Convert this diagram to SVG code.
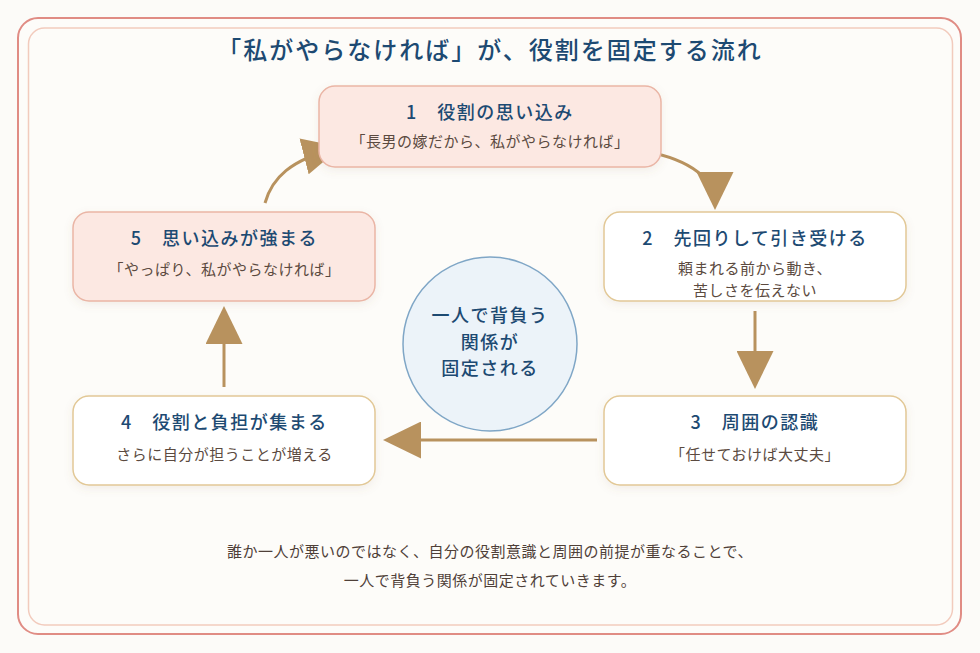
<svg xmlns="http://www.w3.org/2000/svg" width="980" height="653" viewBox="0 0 980 653">
  <style>
    text { font-family: "Noto Sans CJK JP", "Noto Sans", sans-serif; text-anchor: middle; }
    .main { font-size: 24px; font-weight: 500; fill: #1d4a72; letter-spacing: 2px; }
    .nt { font-size: 18px; font-weight: 500; fill: #1d4a72; letter-spacing: 1.5px; }
    .ns { font-size: 15px; fill: #5b4a40; letter-spacing: 0.5px; }
    .ct { font-size: 18px; font-weight: 500; fill: #1d4a72; letter-spacing: 1.5px; }
    .foot { font-size: 15px; fill: #4f4038; letter-spacing: 0.5px; }
    .pink { fill: #fce8e2; stroke: #eab5a5; stroke-width: 1.5; }
    .white { fill: #ffffff; stroke: #e2c896; stroke-width: 1.5; }
    .arrow { fill: none; stroke: #b8925e; stroke-width: 3; marker-end: url(#ah); }
  </style>
  <defs>
    <marker id="ah" viewBox="0 0 38 37" refX="34" refY="18.5" markerWidth="38" markerHeight="37" markerUnits="userSpaceOnUse" orient="auto">
      <path d="M0,0 L38,18.5 L0,37 Z" fill="#b8925e"/>
    </marker>
    <filter id="sh" x="-10%" y="-20%" width="120%" height="150%">
      <feDropShadow dx="0" dy="3" stdDeviation="4" flood-color="#8a6a50" flood-opacity="0.1"/>
    </filter>
  </defs>

  <rect x="0" y="0" width="980" height="653" fill="#fcfbf8"/>
  <rect x="18" y="18" width="943" height="616" rx="20" fill="#fdfcf9" stroke="#e08c84" stroke-width="2"/>
  <rect x="28.5" y="28" width="924" height="597" rx="16" fill="none" stroke="#f2cbbd" stroke-width="1.5"/>

  <text class="main" x="490" y="59">「私がやらなければ」が、役割を固定する流れ</text>

  <g id="connectors">
    <path class="arrow" d="M645,151 C690,160 715,178 715,206"/>
    <path class="arrow" d="M755,311 L755,385"/>
    <path class="arrow" d="M597,440 L387,440"/>
    <path class="arrow" d="M224,387 L224,310"/>
    <path class="arrow" d="M265,203 C272,178 290,160 337,148"/>
  </g>

  <g id="node1">
    <rect class="pink" x="319" y="86" width="342" height="81" rx="16" filter="url(#sh)"/>
    <text class="nt" x="490" y="119">1　役割の思い込み</text>
    <text class="ns" x="490" y="147">「長男の嫁だから、私がやらなければ」</text>
  </g>

  <g id="node2">
    <rect class="white" x="604" y="212" width="302" height="89" rx="16" filter="url(#sh)"/>
    <text class="nt" x="755" y="245">2　先回りして引き受ける</text>
    <text class="ns" x="755" y="274">頼まれる前から動き、</text>
    <text class="ns" x="755" y="296">苦しさを伝えない</text>
  </g>

  <g id="node3">
    <rect class="white" x="604" y="396" width="302" height="89" rx="16" filter="url(#sh)"/>
    <text class="nt" x="755" y="429">3　周囲の認識</text>
    <text class="ns" x="755" y="460">「任せておけば大丈夫」</text>
  </g>

  <g id="node4">
    <rect class="white" x="73" y="396" width="302" height="89" rx="16" filter="url(#sh)"/>
    <text class="nt" x="224.5" y="429">4　役割と負担が集まる</text>
    <text class="ns" x="224.5" y="460">さらに自分が担うことが増える</text>
  </g>

  <g id="node5">
    <rect class="pink" x="73" y="212" width="302" height="89" rx="16" filter="url(#sh)"/>
    <text class="nt" x="224.5" y="245">5　思い込みが強まる</text>
    <text class="ns" x="224.5" y="275">「やっぱり、私がやらなければ」</text>
  </g>

  <g id="center">
    <circle cx="490" cy="344" r="87" fill="#ecf3f9" stroke="#7fa6c6" stroke-width="1.5"/>
    <text class="ct" x="490" y="322">一人で背負う</text>
    <text class="ct" x="490" y="348.5">関係が</text>
    <text class="ct" x="490" y="375">固定される</text>
  </g>

  <g id="footer">
    <text class="foot" x="490" y="557">誰か一人が悪いのではなく、自分の役割意識と周囲の前提が重なることで、</text>
    <text class="foot" x="490" y="586">一人で背負う関係が固定されていきます。</text>
  </g>
</svg>
